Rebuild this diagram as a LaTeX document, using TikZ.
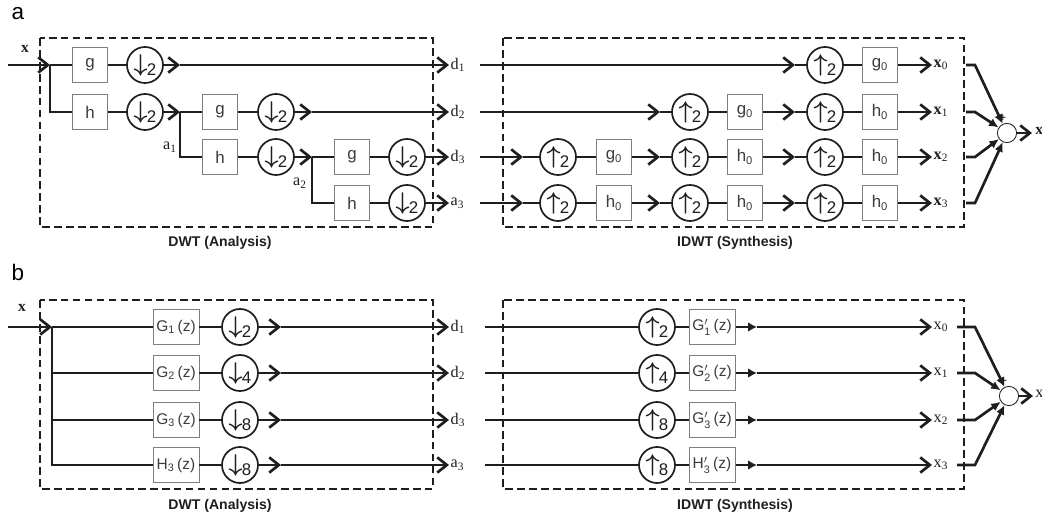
\documentclass[tikz,border=0pt]{standalone}
\usepackage{fontspec}
\usepackage{amsmath}
\setmainfont{Liberation Serif}
\setsansfont{Liberation Sans}
\usetikzlibrary{arrows.meta}
\definecolor{boxborder}{HTML}{7F7F7F}
\definecolor{darkline}{HTML}{1E1E1E}
\definecolor{digitgray}{HTML}{3C3C3C}
\tikzset{
  filt/.style={rectangle, draw=boxborder, line width=0.7pt, fill=white, inner sep=0pt,
               minimum width=0.875cm, minimum height=0.875cm, text=digitgray,
               font=\sffamily\fontsize{12}{12}\selectfont},
  bigfilt/.style={filt, minimum width=1.15cm, font=\sffamily\fontsize{11}{11}\selectfont},
  samp/.style={circle, draw=darkline, line width=1.2pt, fill=white, inner sep=0pt,
               minimum size=0.9cm, text=darkline, font=\sffamily\fontsize{12}{12}\selectfont},
  sumnode/.style={circle, draw=darkline, line width=0.6pt, fill=white, inner sep=0pt, minimum size=0.48cm},
  sig/.style={line width=1.9pt, draw=darkline},
  flow/.style={sig, -{Straight Barb[length=2.4mm, width=3.8mm]}},
  solidflow/.style={sig, -{Latex[length=2.2mm, width=2.4mm]}},
  sumflow/.style={sig, -{Latex[length=2.4mm, width=2.2mm]}},
  stage/.style={draw=darkline, line width=1.6pt, dash pattern=on 5.5pt off 3pt},
  phase/.style={font=\sffamily\bfseries\fontsize{10}{10}\selectfont, text=darkline},
  panel/.style={font=\sffamily\fontsize{16}{16}\selectfont},
  lbl/.style={font=\fontsize{11.5}{11.5}\selectfont, inner sep=1pt, text=darkline},
  plus/.style={font=\sffamily\fontsize{8}{8}\selectfont, inner sep=0pt}
}
\newcommand{\dsamp}[1]{{\fontsize{17}{17}\selectfont$\boldsymbol{\downarrow}$}\kern-0.5pt\raisebox{-3pt}{#1}}
\newcommand{\usamp}[1]{{\fontsize{17}{17}\selectfont$\boldsymbol{\uparrow}$}\kern-0.5pt\raisebox{-3pt}{#1}}
\def\rowA{65}
\def\rowB{112}
\def\rowC{157}
\def\rowD{203}

\begin{document}
\begin{tikzpicture}[x=0.025cm, y=-0.025cm]
\useasboundingbox (0,0) rectangle (1042,518);

%% ---------------- panel a ----------------
\node[panel] (pa) at (18,14) {a};
\draw[stage] (40,38) rectangle (433,227);
\draw[stage] (503,38) rectangle (964,227);
\node[phase] (ta) at (220,243) {DWT (Analysis)};
\node[phase] (tsa) at (735,243) {IDWT (Synthesis)};

%%  Analysis tree
\coordinate (xin) at (8,\rowA);
\coordinate (s0) at (50,\rowA);
\node[lbl, font=\bfseries\fontsize{11}{11}\selectfont] (xa) at (25,49) {x};

\node[filt] (g1) at (90,\rowA) {g};
\node[samp] (c1) at (145,\rowA) {\dsamp{2}};
\coordinate (p1) at (180,\rowA);
\node[filt] (h1) at (90,\rowB) {h};
\node[samp] (c2) at (145,\rowB) {\dsamp{2}};
\coordinate (p2) at (180,\rowB);
\node[filt] (g2) at (220,\rowB) {g};
\node[samp] (c3) at (276,\rowB) {\dsamp{2}};
\coordinate (p3) at (312,\rowB);
\node[filt] (h2) at (220,\rowC) {h};
\node[samp] (c4) at (276,\rowC) {\dsamp{2}};
\coordinate (p4) at (312,\rowC);
\node[filt] (g3) at (352,\rowC) {g};
\node[samp] (c5) at (407,\rowC) {\dsamp{2}};
\node[filt] (h3) at (352,\rowD) {h};
\node[samp] (c6) at (407,\rowD) {\dsamp{2}};

\node[lbl] (a1) at (170,147) {a\textsubscript{1}};
\node[lbl] (a2) at (300,183) {a\textsubscript{2}};
\node[lbl, anchor=west] (d1) at (449,\rowA) {d\textsubscript{1}};
\node[lbl, anchor=west] (d2) at (449,\rowB) {d\textsubscript{2}};
\node[lbl, anchor=west] (d3) at (449,\rowC) {d\textsubscript{3}};
\node[lbl, anchor=west] (a3) at (449,\rowD) {a\textsubscript{3}};

\draw[flow] (xin) -- (s0);
\draw[sig] (s0) -- (g1) -- (c1);
\draw[flow] (c1) -- (p1);
\draw[flow] (p1) -- (d1.west);
\draw[sig] (s0) |- (h1) -- (c2);
\draw[flow] (c2) -- (p2);
\draw[sig] (p2) -- (g2) -- (c3);
\draw[flow] (c3) -- (p3);
\draw[flow] (p3) -- (d2.west);
\draw[sig] (p2) |- (h2) -- (c4);
\draw[flow] (c4) -- (p4);
\draw[sig] (p4) -- (g3) -- (c5);
\draw[flow] (c5) -- (d3.west);
\draw[sig] (p4) |- (h3) -- (c6);
\draw[flow] (c6) -- (a3.west);

%%  Synthesis tree
\node[sumnode] (sumA) at (1007,133) {};
\node[plus] (plA) at (1003,118) {+};
\coordinate (yA) at (1032,133);
\node[lbl, anchor=west, inner sep=0pt, font=\bfseries\fontsize{11}{11}\selectfont] (xoA) at (1035,131) {x};
\draw[flow] (sumA) -- (yA);

% last column, every row
\foreach \r/\j/\y/\f in {1/0/\rowA/g, 2/1/\rowB/h, 3/2/\rowC/h, 4/3/\rowD/h} {
  \coordinate (q\r) at (480,\y);
  \coordinate (mC\r) at (795,\y);
  \node[samp] (uC\r) at (825,\y) {\usamp{2}};
  \node[filt] (rC\r) at (880,\y) {\f\textsubscript{0}};
  \node[lbl, anchor=west] (x\j) at (932,\y) {\textbf{x}\textsubscript{\j}};
  \coordinate (o\r) at (966,\y);
  \coordinate (t\r) at (975,\y);
  \draw[sig] (mC\r) -- (uC\r) -- (rC\r);
  \draw[flow] (rC\r) -- (x\j.west);
  \draw[sumflow] (o\r) -- (t\r) -- (sumA);
}
% middle column
\foreach \r/\y/\f in {2/\rowB/g, 3/\rowC/h, 4/\rowD/h} {
  \coordinate (mB\r) at (660,\y);
  \node[samp] (uB\r) at (690,\y) {\usamp{2}};
  \node[filt] (rB\r) at (745,\y) {\f\textsubscript{0}};
  \draw[sig] (mB\r) -- (uB\r) -- (rB\r);
  \draw[flow] (rB\r) -- (mC\r);
}
% first column
\foreach \r/\y/\f in {3/\rowC/g, 4/\rowD/h} {
  \coordinate (mA\r) at (523,\y);
  \node[samp] (uA\r) at (558,\y) {\usamp{2}};
  \node[filt] (rA\r) at (614,\y) {\f\textsubscript{0}};
  \draw[flow] (q\r) -- (mA\r);
  \draw[sig] (mA\r) -- (uA\r) -- (rA\r);
  \draw[flow] (rA\r) -- (mB\r);
}
\draw[flow] (q1) -- (mC1);
\draw[flow] (q2) -- (mB2);

%% ---------------- panel b ----------------
\node[panel] (pb) at (18,272) {b};
\draw[stage] (40,300) rectangle (433,489);
\draw[stage] (503,300) rectangle (964,489);
\node[phase] (tb) at (220,506) {DWT (Analysis)};
\node[phase] (tsb) at (735,506) {IDWT (Synthesis)};

\coordinate (bxin) at (8,327);
\coordinate (bs0) at (52,327);
\node[lbl, font=\bfseries\fontsize{11}{11}\selectfont] (xb) at (22,308) {x};
\draw[flow] (bxin) -- (bs0);

\node[sumnode] (sumB) at (1009,396) {};
\node[plus] (plB) at (1004,381) {+};
\coordinate (yB) at (1033,396);
\node[lbl, anchor=west, inner sep=0pt] (xoB) at (1035,394) {x};
\draw[flow] (sumB) -- (yB);

\foreach \i/\j/\y/\f/\k/\n/\d in {1/0/327/G/1/2/d, 2/1/373/G/2/4/d, 3/2/420/G/3/8/d, 4/3/465/H/3/8/a} {
  % analysis branch
  \node[bigfilt] (bG\i) at (176,\y) {\f\textsubscript{\k}\,(z)};
  \node[samp] (bD\i) at (240,\y) {\dsamp{\n}};
  \coordinate (bP\i) at (281,\y);
  \node[lbl, anchor=west] (bd\i) at (449,\y) {\d\textsubscript{\k}};
  \draw[sig] (bs0) |- (bG\i) -- (bD\i);
  \draw[flow] (bD\i) -- (bP\i);
  \draw[flow] (bP\i) -- (bd\i.west);
  % synthesis branch
  \coordinate (bq\i) at (485,\y);
  \node[samp] (bU\i) at (657,\y) {\usamp{\n}};
  \node[bigfilt] (bR\i) at (712,\y) {$\mathsf{\f}'_{\mathsf{\k}}$\,(z)};
  \coordinate (bm\i) at (757,\y);
  \node[lbl, anchor=west] (bx\i) at (932,\y) {x\textsubscript{\j}};
  \coordinate (bo\i) at (957,\y);
  \coordinate (bt\i) at (975,\y);
  \draw[sig] (bq\i) -- (bU\i) -- (bR\i);
  \draw[solidflow] (bR\i) -- (bm\i);
  \draw[flow] (bm\i) -- (bx\i.west);
  \draw[sumflow] (bo\i) -- (bt\i) -- (sumB);
}

\end{tikzpicture}
\end{document}
